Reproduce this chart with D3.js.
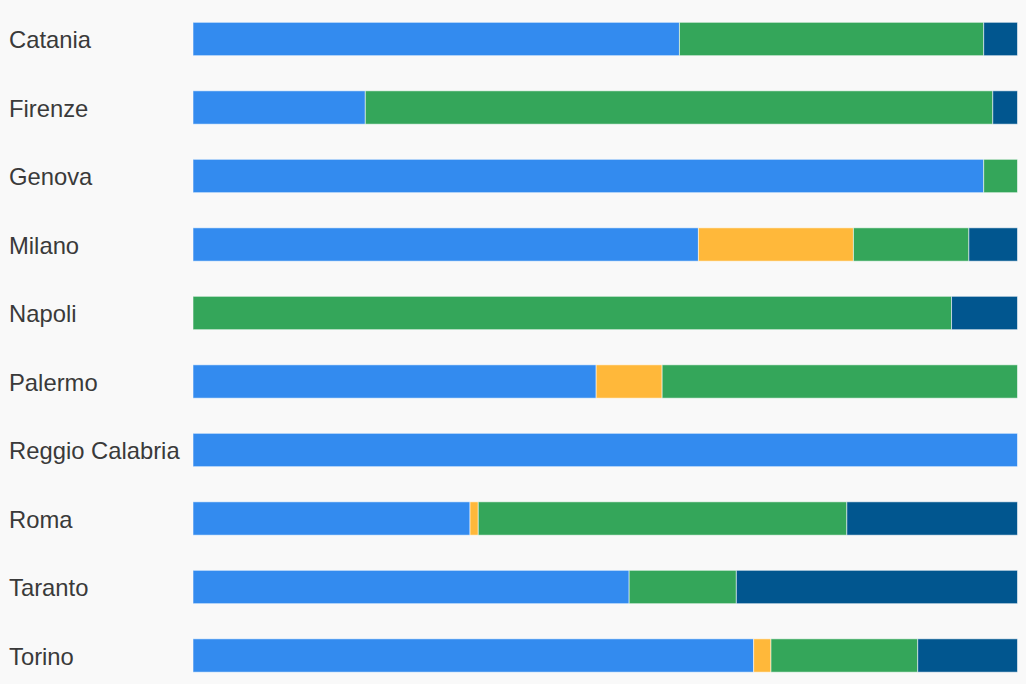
<!DOCTYPE html>
<html>
<head>
<meta charset="utf-8">
<script src="https://cdn.jsdelivr.net/npm/d3@7/dist/d3.min.js"></script>
<style>
  html, body { margin: 0; padding: 0; background: #f9f9f9; }
  svg { display: block; }
  .label { font-family: "Liberation Sans", Arial, sans-serif; font-size: 23.8px; fill: #3a3a3a; }
</style>
</head>
<body>
<svg id="chart" width="1026" height="684"></svg>
<script>
// Cities, one stacked bar each
const cities = ["Catania", "Firenze", "Genova", "Milano", "Napoli", "Palermo",
                "Reggio Calabria", "Roma", "Taranto", "Torino"];

// Share (%) of each series per city
const seriesA = [59.0, 20.9, 95.9, 61.3, 0.0, 48.9, 100.0, 33.6, 52.9, 68.0];
const seriesB = [0.0, 0.0, 0.0, 18.8, 0.0, 8.0, 0.0, 1.0, 0.0, 2.1];
const seriesC = [36.9, 76.1, 4.1, 14.0, 92.0, 43.1, 0.0, 44.7, 13.0, 17.8];
const seriesD = [4.1, 3.0, 0.0, 5.9, 8.0, 0.0, 0.0, 20.7, 34.1, 12.1];

const keys = ["a", "b", "c", "d"];
const colors = ["#338bef", "#ffb83a", "#34a65a", "#01568f"];

const rows = cities.map((c, i) => ({
  city: c, a: seriesA[i], b: seriesB[i], c: seriesC[i], d: seriesD[i]
}));

const svg = d3.select("#chart");
const left = 193, right = 1017.5;

const x = d3.scaleLinear().domain([0, 100]).range([left, right]);
const y = d3.scaleBand().domain(cities).range([4.75, 689.75]).paddingInner(0.513).paddingOuter(0.2565);
const color = d3.scaleOrdinal().domain(keys).range(colors);

const stacked = d3.stack().keys(keys)(rows);

svg.append("g")
  .selectAll("g")
  .data(stacked)
  .join("g")
  .attr("fill", d => color(d.key))
  .selectAll("rect")
  .data(d => d.filter(s => s[1] - s[0] > 0))
  .join("rect")
  .attr("x", d => x(d[0]))
  .attr("y", d => y(d.data.city))
  .attr("width", d => x(d[1]) - x(d[0]))
  .attr("height", y.bandwidth())
  .attr("stroke", "rgba(255,255,255,0.55)")
  .attr("stroke-width", 1);

// Category labels on the left
svg.append("g")
  .selectAll("text")
  .data(cities)
  .join("text")
  .attr("class", "label")
  .attr("x", 9)
  .attr("y", d => y(d) + y.bandwidth() / 2)
  .attr("dy", "0.39em")
  .text(d => d);
</script>
</body>
</html>
